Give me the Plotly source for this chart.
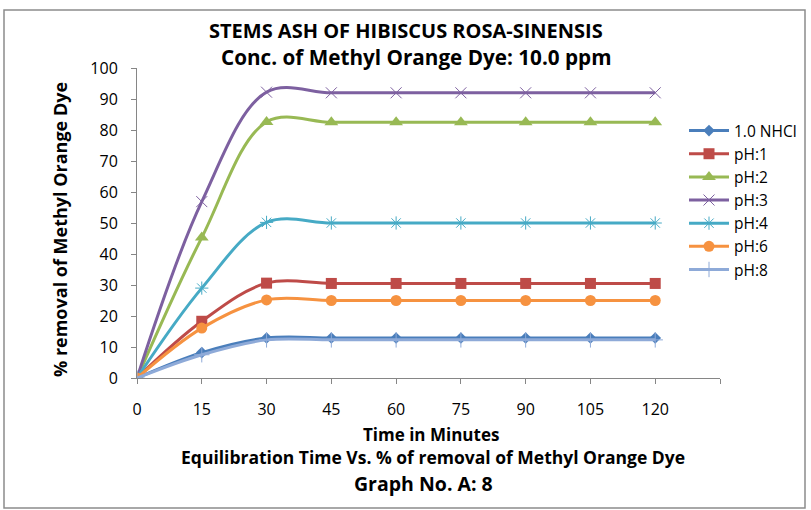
import plotly.graph_objects as go

time_min = [0, 15, 30, 45, 60, 75, 90, 105, 120]
x_ticks = [0, 15, 30, 45, 60, 75, 90, 105, 120, 135]
x_ticktext = ["0", "15", "30", "45", "60", "75", "90", "105", "120", ""]

nhcl = [0, 8.2, 12.9, 12.9, 12.9, 12.9, 12.9, 12.9, 12.9]
ph1 = [0, 18.3, 30.6, 30.5, 30.5, 30.5, 30.5, 30.5, 30.5]
ph2 = [0, 45.3, 82.6, 82.5, 82.5, 82.5, 82.5, 82.5, 82.5]
ph3 = [0, 56.9, 92.2, 92.0, 92.0, 92.0, 92.0, 92.0, 92.0]
ph4 = [0, 29.0, 50.2, 50.0, 50.0, 50.0, 50.0, 50.0, 50.0]
ph6 = [0, 16.1, 25.2, 25.0, 25.0, 25.0, 25.0, 25.0, 25.0]
ph8 = [0, 7.5, 12.3, 12.3, 12.3, 12.3, 12.3, 12.3, 12.3]

series = [
    ("1.0 NHCl", nhcl, "#4A7EBB", "diamond", 9, 0),
    ("pH:1", ph1, "#BE4B48", "square", 11, 0),
    ("pH:2", ph2, "#98B954", "triangle-up", 12, 0),
    ("pH:3", ph3, "#7D60A0", "x-thin-open", 11, 1),
    ("pH:4", ph4, "#46AAC5", "asterisk-open", 11, 1),
    ("pH:6", ph6, "#F69240", "circle", 11, 0),
    ("pH:8", ph8, "#8EAAD8", "cross-thin-open", 11, 1),
]

fig = go.Figure()
for name, vals, color, sym, size, lw in series:
    fig.add_trace(go.Scatter(
        x=time_min, y=vals, name=name, mode="lines+markers",
        line=dict(color=color, width=3, shape="spline", smoothing=1),
        marker=dict(symbol=sym, size=size, color=color,
                    line=dict(color=color, width=lw)),
    ))

FONT = "'Open Sans', sans-serif"
W, H = 811, 510
L, R, T, B = 137, 91, 68, 132
pw, ph_ = W - L - R, H - T - B

def px_x(p):
    return (p - L) / pw

def px_y(p):
    return (H - B - p) / ph_

fig.update_layout(
    width=W, height=H,
    margin=dict(l=L, r=R, t=T, b=B, autoexpand=False),
    paper_bgcolor="white", plot_bgcolor="white",
    font=dict(family=FONT, color="#000000"),
    showlegend=True,
    legend=dict(x=px_x(684), y=px_y(114), xanchor="left", yanchor="top",
                font=dict(size=15.5, family=FONT), tracegroupgap=0,
                itemwidth=40, bgcolor="rgba(0,0,0,0)"),
    xaxis=dict(range=[0, 135], tickvals=x_ticks, ticktext=x_ticktext,
               showgrid=False, zeroline=False, showline=True,
               linecolor="#868686", linewidth=1, ticks="outside",
               ticklen=5, tickcolor="#868686", ticklabelstandoff=12,
               tickfont=dict(size=16, family=FONT, color="#000000")),
    yaxis=dict(range=[0, 100], dtick=10, showgrid=False, zeroline=False,
               showline=True, linecolor="#868686", linewidth=1,
               ticks="outside", ticklen=5, tickcolor="#868686",
               ticklabelstandoff=10,
               tickfont=dict(size=16, family=FONT, color="#000000")),
)

ann = [
    ("<b>STEMS ASH OF HIBISCUS ROSA-SINENSIS</b>", 406, 30, 20, 0),
    ("<b>Conc. of Methyl Orange Dye: 10.0 ppm</b>", 416, 57, 20.7, 0),
    ("<b>Time in Minutes</b>", 431, 434, 17, 0),
    ("<b>Equilibration Time Vs. % of removal of Methyl Orange Dye</b>", 433, 457, 17.5, 0),
    ("<b>Graph No. A: 8</b>", 423, 483, 19.5, 0),
    ("<b>% removal of Methyl Orange Dye</b>", 60, 230, 18, -90),
]
for text, x, y, size, ang in ann:
    fig.add_annotation(text=text, xref="paper", yref="paper",
                       x=px_x(x), y=px_y(y), xanchor="center", yanchor="middle",
                       showarrow=False, textangle=ang,
                       font=dict(size=size, family=FONT, color="#000000"))

fig.add_shape(type="rect", xref="paper", yref="paper",
              x0=px_x(4), x1=px_x(805), y0=px_y(508), y1=px_y(10),
              line=dict(color="#8C8C8C", width=1.5), layer="below")

fig.write_html("out.html")
